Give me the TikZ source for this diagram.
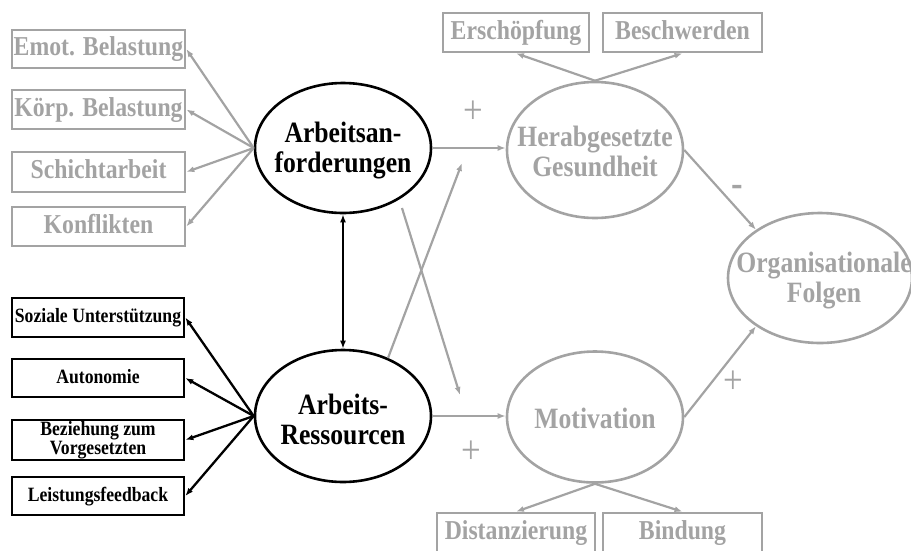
\documentclass[tikz,border=0pt]{standalone}
\usepackage{fontspec}
\setmainfont[FakeStretch=0.87]{Liberation Serif}
\usetikzlibrary{shapes.geometric,arrows.meta}
\definecolor{gr}{RGB}{163,163,163}
\tikzset{
  gbox/.style={draw=gr, line width=2.6pt, text=gr, inner sep=0pt, align=center,
    text height=18pt, text depth=5pt,
    font=\bfseries\fontsize{27.3}{30}\selectfont},
  bbox/.style={draw=black, line width=2.6pt, text=black, inner sep=0pt, align=center,
    font=\bfseries\fontsize{20.3}{18.5}\selectfont, minimum width=172pt},
  gell/.style={draw=gr, ellipse, line width=2.6pt, inner sep=0pt},
  bell/.style={draw=black, ellipse, line width=2.6pt, inner sep=0pt},
  gtxt/.style={text=gr, align=center, inner sep=0pt, font=\bfseries\fontsize{29.5}{30}\selectfont},
  btxt/.style={text=black, align=center, inner sep=0pt, font=\bfseries\fontsize{29.5}{30}\selectfont},
  garr/.style={draw=gr, line width=2.2pt, -{Latex[length=8pt,width=6pt]}},
  barr/.style={draw=black, line width=2.3pt, -{Latex[length=8pt,width=6pt]}},
  sign/.style={text=gr, inner sep=0pt, font=\fontsize{40}{40}\selectfont},
}
\begin{document}
\begin{tikzpicture}[x=1pt,y=-1pt]
\useasboundingbox (0,0) rectangle (911,550);
\clip (0,0) rectangle (911,550);
% left gray boxes
\node[gbox, minimum width=173pt, minimum height=38pt] (emot) at (98.5,49) {Emot. Belastung};
\node[gbox, minimum width=173pt, minimum height=39pt] (korp) at (98.5,109.5) {Körp. Belastung};
\node[gbox, minimum width=173pt, minimum height=40pt] (schi) at (98.5,172) {Schichtarbeit};
\node[gbox, minimum width=173pt, minimum height=39pt] (konf) at (98.5,226.5) {Konflikten};
% left black boxes
\node[bbox, minimum height=39pt, text height=14pt, text depth=4pt] (soz) at (98,317.5) {Soziale Unterstützung};
\node[bbox, minimum height=38pt, text height=14pt, text depth=4pt] (auto) at (98,378) {Autonomie};
\node[bbox, minimum height=40pt] (bez) at (98,440) {Beziehung zum\\Vorgesetzten};
\node[bbox, minimum height=38pt, text height=14pt, text depth=4pt] (leis) at (98,496) {Leistungsfeedback};
% ellipses
\node[bell, minimum width=176pt, minimum height=130pt] (A) at (343,148) {};
\node[btxt] (At) at (343,151) {Arbeitsan-\\forderungen};
\node[bell, minimum width=176pt, minimum height=132pt] (R) at (343,416) {};
\node[btxt] (Rt) at (343,419) {Arbeits-\\Ressourcen};
\node[gell, minimum width=176pt, minimum height=136pt] (H) at (595,150) {};
\node[gtxt] (Ht) at (595,151) {Herabgesetzte\\Gesundheit};
\node[gell, minimum width=176pt, minimum height=131pt] (M) at (595,417) {};
\node[gtxt] (Mt) at (595,418) {Motivation};
\node[gell, minimum width=184pt, minimum height=130pt] (O) at (820,278) {};
\node[gtxt] (Ot) at (824,281) {Organisationale\\Folgen};
% top and bottom gray boxes
\node[gbox, minimum width=146pt, minimum height=39pt] (ersch) at (516,32.5) {Erschöpfung};
\node[gbox, minimum width=159pt, minimum height=39pt] (besch) at (682.5,32.5) {Beschwerden};
\node[gbox, minimum width=158pt, minimum height=39pt] (dist) at (516,532.5) {Distanzierung};
\node[gbox, minimum width=159pt, minimum height=39pt] (bind) at (682.5,532.5) {Bindung};
% connectors left
\foreach \b in {emot,korp,schi,konf} \draw[garr] (A.west) -- (\b.east);
\foreach \b in {soz,auto,bez,leis} \draw[barr] (R.west) -- (\b.east);
\draw[barr, {Latex[length=8pt,width=6pt]}-{Latex[length=8pt,width=6pt]}] (A.south) -- (R.north);
% middle
\draw[garr] (A.east) -- (A.east -| H.west);
\draw[garr] (R.east) -- (R.east -| M.west);
\coordinate (c1s) at (402,208);
\coordinate (c1e) at (460,395);
\coordinate (c2s) at (388,358);
\coordinate (c2e) at (462,163);
\draw[garr] (c1s) -- (c1e);
\draw[garr] (c2s) -- (c2e);
% right
\draw[garr] (H.east) -- (O.143);
\draw[garr] (M.east) -- (O.217);
\draw[garr] (H.north) -- (ersch.south);
\draw[garr] (H.north) -- (besch.south);
\draw[garr] (M.south) -- (dist.north);
\draw[garr] (M.south) -- (bind.north);
% signs
\node[sign] (p1) at (473,112) {+};
\node[sign] (p2) at (471,452) {+};
\node[sign] (p3) at (733,382) {+};
\node[sign, font=\bfseries\fontsize{40}{40}\selectfont] (m1) at (737,191) {-};
\end{tikzpicture}
\end{document}
